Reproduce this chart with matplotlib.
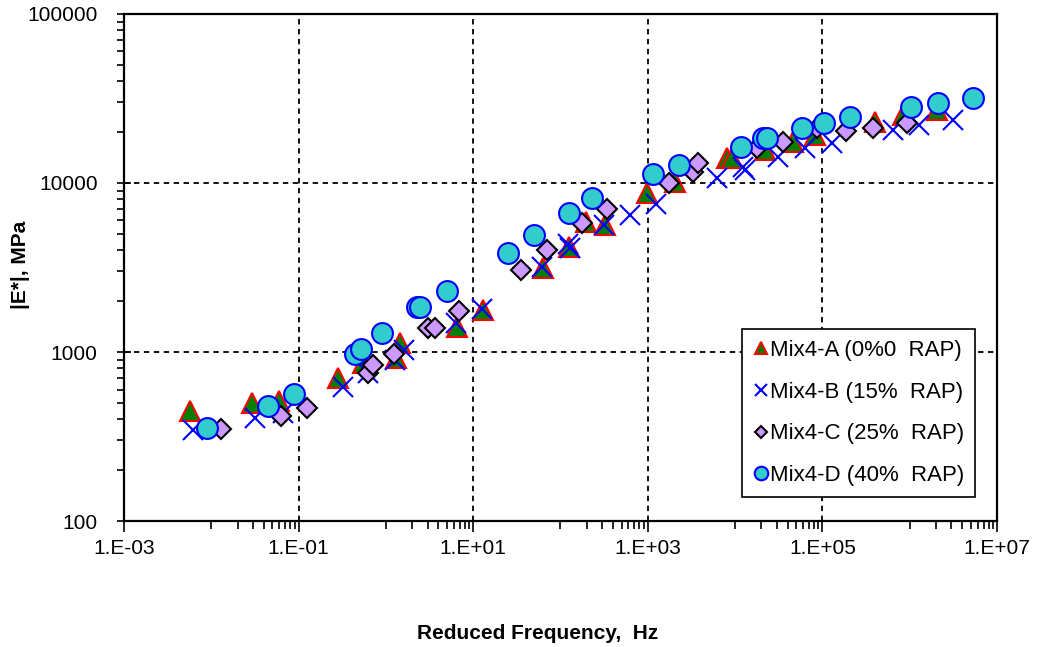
import numpy as np
import matplotlib.pyplot as plt
from matplotlib.ticker import FixedLocator, NullFormatter, FuncFormatter

plt.rcParams["font.family"] = ["Liberation Sans", "DejaVu Sans"]

# Mix4-A (0% RAP)
freq_a = [0.0057, 0.029, 0.060, 0.28, 0.55, 1.3, 1.45, 6.5, 12.9, 63, 125, 196,
          324, 980, 2050, 8070, 9200, 22000, 46000, 82000, 400000, 838000, 2060000]
mod_a = [448, 499, 513, 702, 861, 921, 1130, 1406, 1773, 3140, 4180, 5880,
         5640, 8730, 10140, 14060, 14060, 15670, 17500, 19230, 22960, 25240, 27040]

# Mix4-B (15% RAP)
freq_b = [0.0062, 0.0317, 0.066, 0.323, 0.62, 1.27, 1.61, 6.35, 12.6, 61, 122, 128,
          315, 625, 1240, 6200, 12300, 13000, 31000, 63200, 129000, 644000,
          1280000, 3130000]
mod_b = [345, 407, 436, 621, 751, 897, 1028, 1485, 1796, 3184, 4355, 4124,
         5640, 6470, 7510, 10710, 12450, 11940, 14260, 16100, 17260, 20600,
         22030, 23600]

# Mix4-C (25% RAP)
freq_c = [0.0129, 0.0628, 0.125, 0.62, 0.71, 1.24, 3.03, 3.65, 6.9, 35, 70, 176,
          341, 1750, 3300, 3760, 17800, 35400, 86700, 186000, 380000, 931000]
mod_c = [350, 418, 467, 751, 838, 973, 1387, 1387, 1749, 3055, 4015, 5800,
         7020, 10000, 11620, 13130, 16100, 17500, 21140, 20320, 21140, 22640]

# Mix4-D (40% RAP)
freq_d = [0.0089, 0.0446, 0.0885, 0.443, 0.519, 0.902, 2.27, 2.46, 5.0, 25, 49.7,
          125, 230, 1150, 2280, 11700, 20900, 23200, 58400, 104000, 207000,
          1040000, 2110000, 5310000]
mod_d = [355, 479, 564, 973, 1042, 1296, 1846, 1846, 2297, 3854, 4920, 6640,
         8150, 11300, 12800, 16330, 18450, 18450, 21140, 22640, 24600, 28180,
         29740, 31850]

x_major = [1e-3, 1e-1, 1e1, 1e3, 1e5, 1e7]
y_major = [100, 1000, 10000, 100000]

fig = plt.figure(figsize=(10.39, 6.47), dpi=100)
ax = fig.add_axes([0.1193, 0.1947, 0.8403, 0.7837])

ax.plot(freq_a, mod_a, ls="none", marker="^", ms=14, mfc="#008000", mec="#FF0000",
        mew=1.5, label="Mix4-A (0%0  RAP)", zorder=3)
ax.plot(freq_b, mod_b, ls="none", marker="x", ms=14, color="#0000FF", mew=1.5,
        label="Mix4-B (15%  RAP)", zorder=3)
ax.plot(freq_c, mod_c, ls="none", marker="D", ms=10, mfc="#CC99FF", mec="black",
        mew=1.5, label="Mix4-C (25%  RAP)", zorder=3)
ax.plot(freq_d, mod_d, ls="none", marker="o", ms=15, mfc="#33CCCC", mec="#0000FF",
        mew=1.5, label="Mix4-D (40%  RAP)", zorder=3)

ax.set_xscale("log")
ax.set_yscale("log")
ax.set_xlim(1e-3, 1e7)
ax.set_ylim(100, 100000)

# x axis: major ticks every two decades, minor ticks at 10..90 x major
ax.xaxis.set_major_locator(FixedLocator(x_major))
x_minor = [m * k * 10 for m in x_major[:-1] for k in range(1, 10)]
ax.xaxis.set_minor_locator(FixedLocator(x_minor))
ax.xaxis.set_minor_formatter(NullFormatter())
ax.xaxis.set_major_formatter(FuncFormatter(
    lambda v, p: "1.E%+03d" % int(round(np.log10(v)))))

ax.yaxis.set_major_locator(FixedLocator(y_major))
y_minor = [k * 10 ** e for e in range(2, 5) for k in range(2, 10)]
ax.yaxis.set_minor_locator(FixedLocator(y_minor))
ax.yaxis.set_minor_formatter(NullFormatter())
ax.yaxis.set_major_formatter(FuncFormatter(lambda v, p: "%d" % v))

ax.tick_params(axis="x", which="major", direction="out", length=8, width=1.2,
               labelsize=15, pad=5)
ax.tick_params(axis="x", which="minor", direction="out", length=6, width=1.2)
ax.tick_params(axis="y", which="major", direction="inout", length=10, width=1.2,
               labelsize=15, pad=14)
ax.tick_params(axis="y", which="minor", direction="out", length=5, width=1.2)

ax.grid(True, which="major", color="black", ls=(0, (3, 2.5)), lw=1.3)
ax.set_axisbelow(True)
for s in ax.spines.values():
    s.set_linewidth(1.6)
    s.set_color("black")

ax.set_xlabel("Reduced Frequency,  Hz", fontsize=15, fontweight="bold")
ax.xaxis.set_label_coords(0.474, -0.203)
ax.set_ylabel("|E*|, MPa", fontsize=15, fontweight="bold")
ax.yaxis.set_label_coords(-0.108, 0.505)

leg = ax.legend(loc="upper left", bbox_to_anchor=(0.708, 0.379), fontsize=16,
                frameon=True, fancybox=False, edgecolor="black", framealpha=1,
                markerscale=0.65, handlelength=0.7, handletextpad=0.05,
                labelspacing=0.93, borderpad=0.5, borderaxespad=0)
leg.get_frame().set_linewidth(1.2)

fig.savefig("out.png", dpi=100)
